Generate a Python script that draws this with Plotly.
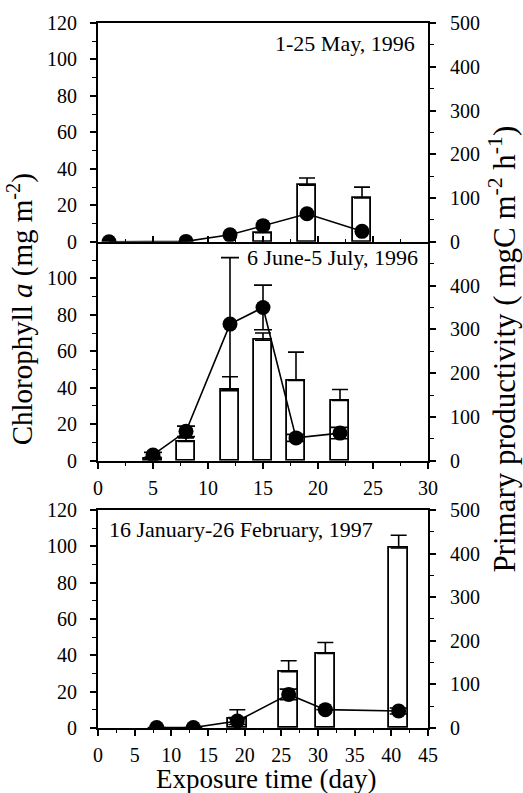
import plotly.graph_objects as go

# ---------------- data ----------------
# Panel 1: 1-25 May, 1996
chl_x_may = [15, 19, 24]
chl_may = [5, 31, 24]
chl_err_may = [0, 4, 6]
pp_x_may = [1, 8, 12, 15, 19, 24]
pp_may = [0, 1, 16, 37, 64, 24]

# Panel 2: 6 June-5 July, 1996
chl_x_jun = [5, 8, 12, 15, 18, 22]
chl_jun = [1, 10.5, 39, 66, 44, 33]
chl_err_jun = [1, 2, 7, 4, 15.5, 6]
pp_x_jun = [5, 8, 12, 15, 18, 22]
pp_jun = [13, 67, 312, 350, 52, 63]
pp_err_jun = [6, 12, 152, 51, 8, 13]

# Panel 3: 16 January-26 February, 1997
chl_x_jan = [19, 26, 31, 41]
chl_jan = [5, 31, 41, 99]
chl_err_jan = [5, 6, 6, 7]
pp_x_jan = [8, 13, 19, 26, 31, 41]
pp_jan = [1, 1, 16, 77, 42, 39]
pp_err_jan = [0, 0, 8, 12, 0, 7]

panel_labels = ["1-25 May, 1996", "6 June-5 July, 1996", "16 January-26 February, 1997"]
left_ticks = [0, 20, 40, 60, 80, 100, 120]
right_ticks = [0, 100, 200, 300, 400, 500]

FONT = "Liberation Serif"
TICKF = dict(family=FONT, size=20, color="black")

fig = go.Figure()

def add_panel(xa, ya, yb, cx, cy, cerr, px, py, perr, bw):
    fig.add_trace(go.Bar(
        x=cx, y=cy, width=bw, xaxis=xa, yaxis=ya,
        marker=dict(color="white", line=dict(color="black", width=1.8)),
        error_y=dict(type="data", symmetric=False, array=cerr,
                     arrayminus=[0] * len(cerr), color="black",
                     thickness=1.6, width=8),
        showlegend=False))
    fig.add_trace(go.Scatter(
        x=px, y=py, xaxis=xa, yaxis=yb, mode="lines+markers",
        line=dict(color="black", width=1.6),
        marker=dict(color="black", size=15),
        error_y=(dict(type="data", array=perr, color="black",
                      thickness=1.6, width=9) if perr else None),
        showlegend=False))

add_panel("x", "y", "y2", chl_x_may, chl_may, chl_err_may, pp_x_may, pp_may, None, 1.55)
add_panel("x2", "y3", "y4", chl_x_jun, chl_jun, chl_err_jun, pp_x_jun, pp_jun, pp_err_jun, 1.55)
add_panel("x3", "y5", "y6", chl_x_jan, chl_jan, chl_err_jan, pp_x_jan, pp_jan, pp_err_jan, 2.65)

# geometry (paper fractions)
d_top = [0.6896, 1.0]
d_mid = [0.3792, 0.6896]
d_bot = [0.0, 0.3094]

def xax(dom_anchor, rng, labels, mirror):
    return dict(anchor=dom_anchor, domain=[0, 1], range=rng,
                showline=True, linecolor="black", linewidth=1.8,
                mirror=mirror, ticks="outside" if labels else "inside",
                ticklen=6, tickwidth=1.5, tickcolor="black",
                tickmode="linear", tick0=0, dtick=5,
                showticklabels=labels, tickfont=TICKF,
                ticklabelstandoff=2,
                minor=dict(ticks="outside" if labels else "inside", dtick=2.5, tick0=0, ticklen=3,
                           tickwidth=1.2, tickcolor="black"),
                showgrid=False, zeroline=False, fixedrange=True)

def yax_left(dom, anchor, tickvals):
    return dict(domain=dom, anchor=anchor, range=[0, 120], side="left",
                showline=True, linecolor="black", linewidth=1.8,
                ticks="outside", ticklen=6, tickwidth=1.5, tickcolor="black",
                tickmode="array", tickvals=tickvals, tickfont=TICKF,
                ticklabelstandoff=9,
                minor=dict(ticks="outside", tickmode="linear", tick0=0, dtick=10,
                           ticklen=4, tickwidth=1.2, tickcolor="black"),
                showgrid=False, zeroline=False, fixedrange=True)

def yax_right(overlay, anchor, tickvals):
    return dict(overlaying=overlay, anchor=anchor, range=[0, 500], side="right",
                showline=True, linecolor="black", linewidth=1.8,
                ticks="outside", ticklen=6, tickwidth=1.5, tickcolor="black",
                tickmode="array", tickvals=tickvals, tickfont=TICKF,
                ticklabelstandoff=10,
                minor=dict(ticks="outside", tickmode="linear", tick0=0, dtick=50,
                           ticklen=4, tickwidth=1.2, tickcolor="black"),
                showgrid=False, zeroline=False, fixedrange=True)

fig.update_layout(
    width=523, height=793,
    margin=dict(l=98, r=95, t=16, b=65),
    paper_bgcolor="white", plot_bgcolor="white",
    bargap=0, barmode="overlay",
    xaxis=xax("y", [0, 30], False, True),
    xaxis2=xax("y3", [0, 30], True, False),
    xaxis3=xax("y5", [0, 45], True, True),
    yaxis=yax_left(d_top, "x", left_ticks),
    yaxis2=yax_right("y", "x", right_ticks),
    yaxis3=yax_left(d_mid, "x2", left_ticks[:-1]),
    yaxis4=yax_right("y3", "x2", right_ticks[:-1]),
    yaxis5=yax_left(d_bot, "x3", left_ticks),
    yaxis6=yax_right("y5", "x3", right_ticks),
)

ann_font = dict(family=FONT, size=22, color="black")
fig.add_annotation(text=panel_labels[0], xref="x domain", yref="y domain",
                   x=0.967, y=0.905, xanchor="right", yanchor="middle",
                   showarrow=False, font=ann_font)
fig.add_annotation(text=panel_labels[1], xref="x2 domain", yref="y3 domain",
                   x=0.976, y=0.928, xanchor="right", yanchor="middle",
                   showarrow=False, font=ann_font)
fig.add_annotation(text=panel_labels[2], xref="x3 domain", yref="y5 domain",
                   x=0.027, y=0.909, xanchor="left", yanchor="middle",
                   showarrow=False, font=ann_font)

fig.add_annotation(text="Chlorophyll <i>a</i> (mg m<sup>-2</sup>)", xref="paper", yref="paper",
                   x=-0.236, y=0.594, xanchor="center", yanchor="middle",
                   textangle=-90, showarrow=False,
                   font=dict(family=FONT, size=29, color="black"))
fig.add_annotation(text="Primary productivity ( mgC m<sup>-2</sup> h<sup>-1</sup>)",
                   xref="paper", yref="paper",
                   x=1.227, y=0.538, xanchor="center", yanchor="middle",
                   textangle=-90, showarrow=False,
                   font=dict(family=FONT, size=31, color="black"))
fig.add_annotation(text="Exposure time (day)", xref="paper", yref="paper",
                   x=0.509, y=-0.072, xanchor="center", yanchor="middle",
                   showarrow=False, font=dict(family=FONT, size=27, color="black"))

fig.write_html("out.html")
